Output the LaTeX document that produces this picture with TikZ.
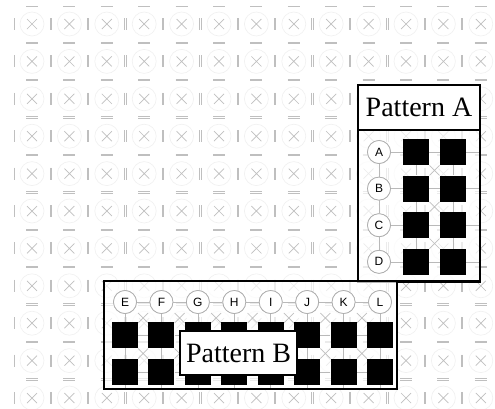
\documentclass[tikz,border=0pt]{standalone}
\usepackage{fontspec}
\setmainfont{Liberation Serif}
\newfontfamily\labelfont{Liberation Sans}
\usetikzlibrary{calc}
\begin{document}
\begin{tikzpicture}[
        x=1pt, y=-1pt,
        tile/.style={gray!50, line width=0.7pt},
        ring/.style={gray!12, line width=0.6pt},
        lattice/.style={gray!55, line width=0.6pt},
        hole/.style={circle, draw=gray!65, fill=white, line width=0.7pt, minimum size=23pt, inner sep=0pt, font=\labelfont\fontsize{12}{12}\selectfont},
        block/.style={fill=black, minimum size=26pt, inner sep=0pt},
        frame/.style={draw=black, line width=2.6pt},
        title/.style={font=\fontsize{28}{28}\selectfont, inner sep=0pt}
    ]
    \useasboundingbox (0,0) rectangle (495,408);
    \fill[white] (0,0) rectangle (495,408);
    \foreach \i in {0,...,13} {
        \foreach \j in {0,...,10} {
            \begin{scope}[shift={(32+37.4*\i,24+37.4*\j)}]
                \draw[ring] (0,0) circle (12);
                \draw[tile] (-5,-5) -- (5,5) (-5,5) -- (5,-5);
                \draw[tile] (-18,-6) -- (-18,6) (18,-6) -- (18,6);
                \draw[tile] (-6,-18) -- (6,-18) (-6,18) -- (6,18);
            \end{scope}
        }
    }
    % Pattern A
    \fill[white, fill opacity=0.7] (358,85) rectangle (480,281.5);
    \foreach \n/\t [count=\r from 0] in {a/A,b/B,c/C,d/D} {
        \node[hole] (\n) at (379,152+36.6*\r) {\t};
        \node[block] (\n1) at (416,152+36.6*\r) {};
        \node[block] (\n2) at (453,152+36.6*\r) {};
        \coordinate (\n end) at (479,152+36.6*\r);
    }
    \foreach \n in {a,b,c,d} {
        \draw[lattice] (\n) -- (\n1) -- (\n2) -- (\n end);
    }
    \foreach \p/\q in {a/b,b/c,c/d,a1/b1,b1/c1,c1/d1,a2/b2,b2/c2,c2/d2} {
        \draw[lattice] (\p) -- (\q);
    }
    \foreach \y in {170.3,206.9,243.5} {
        \draw[tile] (429.5,\y-5) -- (439.5,\y+5) (429.5,\y+5) -- (439.5,\y-5);
    }
    \foreach \n/\t in {a/A,b/B,c/C,d/D} {
        \node[hole] at (\n) {\t};
        \node[block] at (\n1) {};
        \node[block] at (\n2) {};
    }
    \fill[white] (358,85) rectangle (480,129.5);
    \draw[frame] (358,85) rectangle (480,281.5);
    \draw[black, line width=2pt] (358,129.5) -- (480,129.5);
    \node[title] (titleA) at (419,107.5) {Pattern A};
    % Pattern B
    \fill[white, fill opacity=0.7] (104,281) rectangle (397,389);
    \foreach \n/\t [count=\k from 0] in {e/E,f/F,g/G,h/H,i/I,j/J,k/K,l/L} {
        \node[block] (\n1) at (125+36.43*\k,335) {};
        \node[block] (\n2) at (125+36.43*\k,372) {};
        \coordinate (\n end) at (125+36.43*\k,388);
        \draw[lattice] (125+36.43*\k,302) -- (\n1) -- (\n2) -- (\n end);
        \node[hole] (\n) at (125+36.43*\k,302) {\t};
    }
    \foreach \p/\q in {e/f,f/g,g/h,h/i,i/j,j/k,k/l} {
        \draw[lattice] (\p) -- (\q);
        \draw[lattice] (\p1) -- (\q1) (\p2) -- (\q2);
        \foreach \y in {318,353.5} {
            \draw[tile] ($(\p)!0.5!(\q)+(-5,\y-302-5)$) -- ++(10,10) ++(-10,0) -- ++(10,-10);
        }
    }
    \foreach \n/\t in {e/E,f/F,g/G,h/H,i/I,j/J,k/K,l/L} {
        \node[hole] at (\n) {\t};
        \node[block] at (\n1) {};
        \node[block] at (\n2) {};
    }
    \draw[frame] (104,281) rectangle (397,389);
    \node[title, draw, fill=white, line width=1.3pt, minimum width=117pt, minimum height=44pt] (titleB) at (238.5,353) {Pattern B};
\end{tikzpicture}
\end{document}
